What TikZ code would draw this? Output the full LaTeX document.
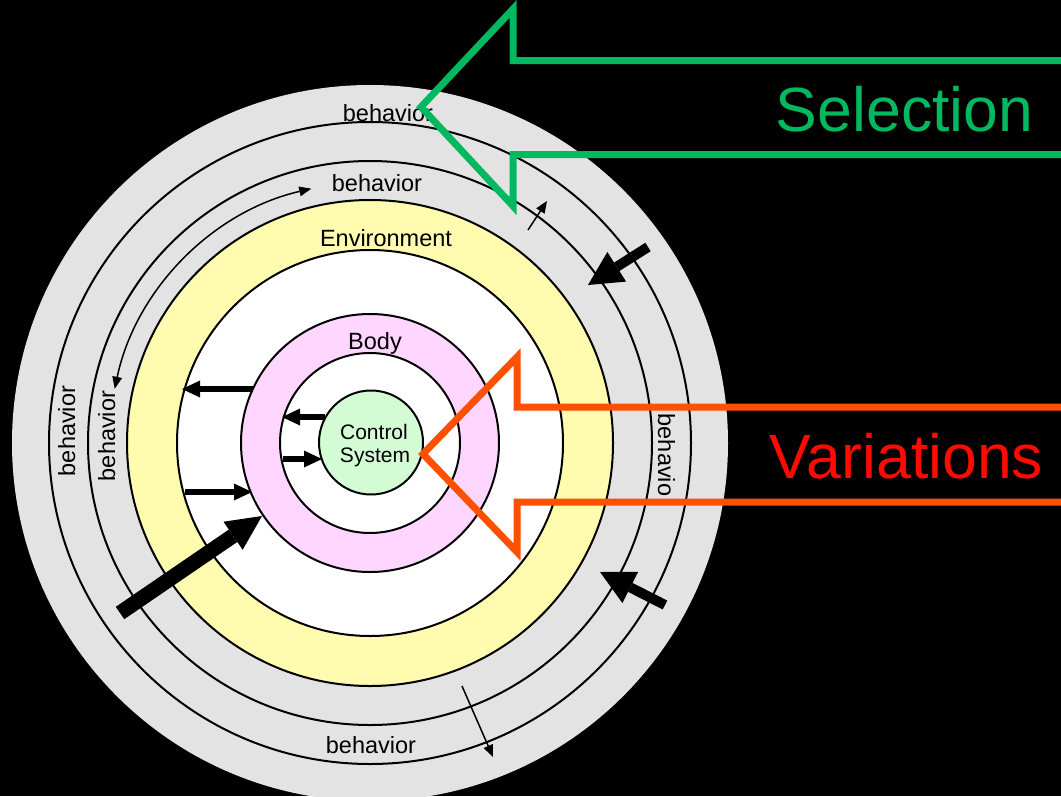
\documentclass[tikz,border=0pt]{standalone}
\usepackage{fontspec}
\setmainfont{Liberation Sans}
\usetikzlibrary{arrows.meta}
\definecolor{ringgray}{RGB}{227,227,227}
\definecolor{envyellow}{RGB}{255,251,175}
\definecolor{bodypink}{RGB}{255,214,255}
\definecolor{ctrlgreen}{RGB}{212,252,212}
\definecolor{selgreen}{RGB}{0,184,96}
\definecolor{varorange}{RGB}{255,80,0}
\definecolor{vartext}{RGB}{255,10,0}
\begin{document}
\begin{tikzpicture}[x=1pt,y=-1pt,
  ring/.style={draw=black,line width=2pt},
  lbl/.style={font=\fontsize{23.5}{26}\selectfont, text=black, anchor=base, inner sep=0pt},
  ctl/.style={font=\fontsize{21}{23}\selectfont, text=black, anchor=base, inner sep=0pt},
  big/.style={font=\fontsize{62.5}{70}\selectfont, anchor=base, inner sep=0pt},
  thinarrow/.style={draw=black, line width=1.5pt, -{Triangle[length=12pt,width=10pt,line width=0pt]}},
  thinboth/.style={draw=black, line width=1.5pt, {Triangle[length=12pt,width=10pt,line width=0pt]}-{Triangle[length=12pt,width=10pt,line width=0pt]}},
  bigarrow/.style={draw=black, line width=10pt, -{Triangle[length=34pt,width=35pt,line width=0pt]}},
  hugearrow/.style={draw=black, line width=15pt, -{Triangle[length=35pt,width=34pt,line width=0pt]}},
  smallarrow/.style={draw=black, line width=6pt, -{Triangle[length=18pt,width=17pt,line width=0pt]}},
  outline/.style={line width=7pt, line join=miter, miter limit=10},
]
\useasboundingbox (0,0) rectangle (1061,796);
\clip (0,0) rectangle (1061,796);
\fill[black] (0,0) rectangle (1061,796);
\coordinate (C) at (370,443);
% rings
\fill[ringgray] (C) circle[radius=358];
\draw[ring] (C) circle[radius=321];
\draw[ring] (C) circle[radius=282];
\filldraw[ring, fill=envyellow] (C) circle[radius=243];
\filldraw[ring, fill=white] (C) circle[radius=193];
\filldraw[ring, fill=bodypink] (C) circle[radius=129];
\filldraw[ring, fill=white] (C) circle[radius=90];
\node[circle, draw=black, line width=2pt, fill=ctrlgreen, minimum size=104pt, inner sep=0pt] (ctrl) at (371,442.5) {};
% labels
\node[lbl] (bo1) at (388,121) {behavior};
\node[lbl] (bo2) at (377,191) {behavior};
\node[lbl] (bb) at (371,753) {behavior};
\node[lbl, rotate=90] (bl1) at (75,431) {behavior};
\node[lbl, rotate=90] (bl2) at (115,436) {behavior};
\node[lbl, rotate=-90] (br) at (658,455) {behavio};
\node[lbl] (env) at (386,246) {Environment};
\node[lbl] (body) at (375,349) {Body};
\node[ctl] (ctl1) at (374,439) {Control};
\node[ctl] (ctl2) at (375,462) {System};
% thin arrows
\path (C) ++(192:261) coordinate (arcA);
\draw[thinboth] (arcA) arc[start angle=192, end angle=257, radius=261];
\coordinate (t1s) at (528,230);
\coordinate (t1e) at (547,201);
\draw[thinarrow] (t1s) -- (t1e);
\coordinate (t2s) at (462,686);
\coordinate (t2e) at (493,757);
\draw[thinarrow] (t2s) -- (t2e);
% thick arrows
\coordinate (a1s) at (648,247);
\coordinate (a1e) at (588,285);
\draw[bigarrow] (a1s) -- (a1e);
\coordinate (a2s) at (665,605);
\coordinate (a2e) at (600,572);
\draw[bigarrow] (a2s) -- (a2e);
\coordinate (a3s) at (120,613);
\coordinate (a3e) at (262,516);
\draw[hugearrow] (a3s) -- (a3e);
\coordinate (a4s) at (253,389);
\coordinate (a4e) at (182,389);
\draw[smallarrow] (a4s) -- (a4e);
\coordinate (a5s) at (185,492);
\coordinate (a5e) at (252,492);
\draw[smallarrow] (a5s) -- (a5e);
\coordinate (a6s) at (325,417);
\coordinate (a6e) at (282,417);
\draw[smallarrow] (a6s) -- (a6e);
\coordinate (a7s) at (283,459);
\coordinate (a7e) at (322,459);
\draw[smallarrow] (a7s) -- (a7e);
% big outline arrows
\draw[outline, selgreen] (1075,60.5) -- (513,60.5) -- (513,9) -- (421,107) -- (513,206) -- (513,154.5) -- (1075,154.5);
\draw[outline, varorange] (1075,407) -- (517,407) -- (517,357) -- (423,454) -- (517,552) -- (517,502) -- (1075,502);
\node[big, text=selgreen] (sel) at (904.5,131) {Selection};
\node[big, text=vartext] (var) at (906.5,478) {Variations};
\end{tikzpicture}
\end{document}
